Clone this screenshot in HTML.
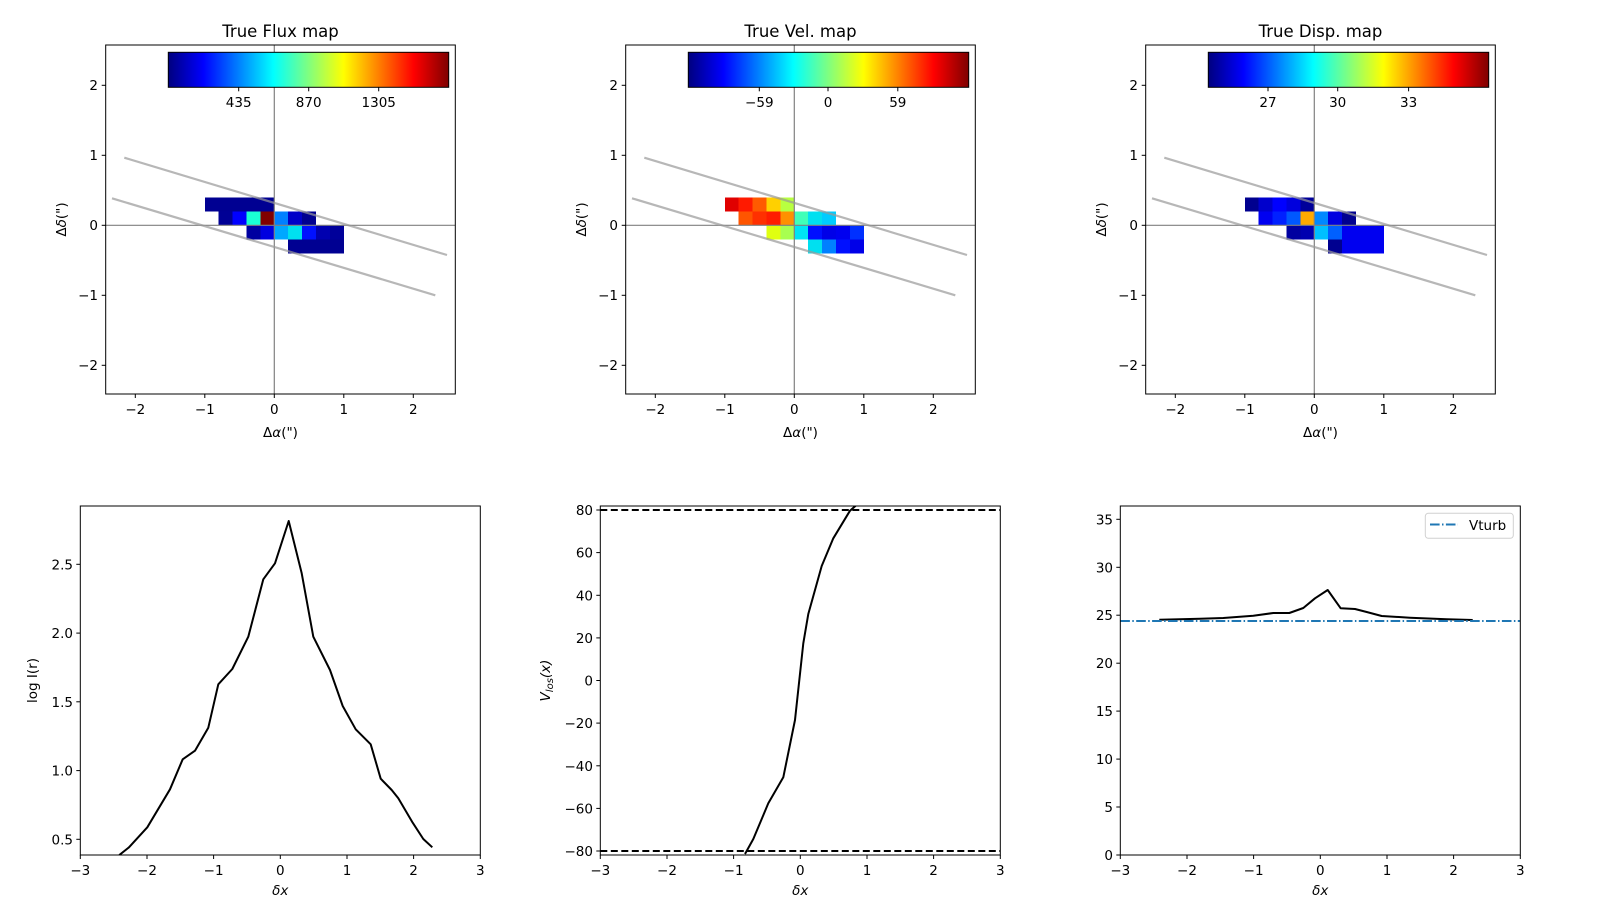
<!DOCTYPE html>
<html><head><meta charset="utf-8"><style>
html,body{margin:0;padding:0;background:#fff}
svg{display:block;font-family:"DejaVu Sans","Liberation Sans",sans-serif}
</style></head><body>
<svg width="1600" height="900" viewBox="0 0 1600 900" xmlns="http://www.w3.org/2000/svg">
<defs>
<linearGradient id="jet" x1="0" x2="1" y1="0" y2="0">
<stop offset="0" stop-color="#00007f"/><stop offset="0.125" stop-color="#0000ff"/>
<stop offset="0.375" stop-color="#00ffff"/><stop offset="0.625" stop-color="#ffff00"/>
<stop offset="0.875" stop-color="#ff0000"/><stop offset="1" stop-color="#7f0000"/>
</linearGradient>
<g id="topframe">
<line x1="274.3" y1="45" x2="274.3" y2="394" stroke="#808080" stroke-width="1.2"/>
<line x1="105.7" y1="225.3" x2="455.3" y2="225.3" stroke="#808080" stroke-width="1.2"/>
<line x1="124.3" y1="157.7" x2="447" y2="255" stroke="#999" stroke-opacity="0.7" stroke-width="2.2"/>
<line x1="112" y1="198.3" x2="435.3" y2="295.3" stroke="#999" stroke-opacity="0.7" stroke-width="2.2"/>
<rect x="168.3" y="52.3" width="280.4" height="35" fill="url(#jet)" stroke="#000" stroke-width="1"/>
<rect x="105.7" y="45" width="349.6" height="349" fill="none" stroke="#000" stroke-width="1"/>
<g stroke="#000" stroke-width="1">
<line x1="135.3" y1="394" x2="135.3" y2="398"/><line x1="204.8" y1="394" x2="204.8" y2="398"/><line x1="274.3" y1="394" x2="274.3" y2="398"/><line x1="343.8" y1="394" x2="343.8" y2="398"/><line x1="413.3" y1="394" x2="413.3" y2="398"/>
<line x1="101.7" y1="85.3" x2="105.7" y2="85.3"/><line x1="101.7" y1="155.3" x2="105.7" y2="155.3"/><line x1="101.7" y1="225.3" x2="105.7" y2="225.3"/><line x1="101.7" y1="295.3" x2="105.7" y2="295.3"/><line x1="101.7" y1="365.3" x2="105.7" y2="365.3"/>
</g>
<g font-size="13.5" fill="#000" text-anchor="middle">
<text x="135.3" y="414">−2</text><text x="204.8" y="414">−1</text><text x="274.3" y="414">0</text><text x="343.8" y="414">1</text><text x="413.3" y="414">2</text>
<text x="280.5" y="437">Δ<tspan font-style="italic">α</tspan>(")</text>
</g>
<g font-size="13.5" fill="#000" text-anchor="end">
<text x="98" y="90">2</text><text x="98" y="160">1</text><text x="98" y="230">0</text><text x="98" y="300">−1</text><text x="98" y="370">−2</text>
</g>
<text transform="translate(66,219.5) rotate(-90)" font-size="13.5" text-anchor="middle">Δ<tspan font-style="italic">δ</tspan>(")</text>
</g>
</defs>

<!-- Panel 1: Flux -->
<g>
<g shape-rendering="crispEdges">
<rect x="204.8" y="197.3" width="69.8" height="14.2" fill="#000092"/>
<rect x="218.7" y="211.3" width="14.1" height="14.2" fill="#000095"/>
<rect x="232.6" y="211.3" width="14.1" height="14.2" fill="#0000ff"/>
<rect x="246.5" y="211.3" width="14.1" height="14.2" fill="#1affd5"/>
<rect x="260.4" y="211.3" width="14.1" height="14.2" fill="#800000"/>
<rect x="274.3" y="211.3" width="14.1" height="14.2" fill="#0080ff"/>
<rect x="288.2" y="211.3" width="14.1" height="14.2" fill="#0000c8"/>
<rect x="302.1" y="211.3" width="14.1" height="14.2" fill="#000090"/>
<rect x="246.5" y="225.3" width="14.1" height="14.2" fill="#0000a0"/>
<rect x="260.4" y="225.3" width="14.1" height="14.2" fill="#0000e0"/>
<rect x="274.3" y="225.3" width="14.1" height="14.2" fill="#00a8ff"/>
<rect x="288.2" y="225.3" width="14.1" height="14.2" fill="#00e0f0"/>
<rect x="302.1" y="225.3" width="14.1" height="14.2" fill="#0010ff"/>
<rect x="316" y="225.3" width="14.1" height="14.2" fill="#0000b0"/>
<rect x="329.9" y="225.3" width="14" height="14.2" fill="#00009a"/>
<rect x="288.2" y="239.3" width="55.6" height="14" fill="#000092"/>
</g>
<use href="#topframe"/>
<text x="280.5" y="37" font-size="16.5" text-anchor="middle">True Flux map</text>
<g stroke="#000"><line x1="238.7" y1="87.3" x2="238.7" y2="91.3"/><line x1="308.7" y1="87.3" x2="308.7" y2="91.3"/><line x1="378.7" y1="87.3" x2="378.7" y2="91.3"/></g>
<g font-size="13.5" text-anchor="middle"><text x="238.7" y="107">435</text><text x="308.7" y="107">870</text><text x="378.7" y="107">1305</text></g>
</g>

<!-- Panel 2: Vel -->
<g transform="translate(520,0)">
<g shape-rendering="crispEdges">
<rect x="204.8" y="197.3" width="14.1" height="14.2" fill="#e00000"/>
<rect x="218.7" y="197.3" width="14.1" height="14.2" fill="#ff1a00"/>
<rect x="232.6" y="197.3" width="14.1" height="14.2" fill="#ff5a00"/>
<rect x="246.5" y="197.3" width="14.1" height="14.2" fill="#ffd000"/>
<rect x="260.4" y="197.3" width="14.1" height="14.2" fill="#b8ff40"/>
<rect x="218.7" y="211.3" width="14.1" height="14.2" fill="#ff5500"/>
<rect x="232.6" y="211.3" width="14.1" height="14.2" fill="#ff3000"/>
<rect x="246.5" y="211.3" width="14.1" height="14.2" fill="#ff1c00"/>
<rect x="260.4" y="211.3" width="14.1" height="14.2" fill="#ff9000"/>
<rect x="274.3" y="211.3" width="14.1" height="14.2" fill="#40ffb8"/>
<rect x="288.2" y="211.3" width="14.1" height="14.2" fill="#00e0f0"/>
<rect x="302.1" y="211.3" width="14.1" height="14.2" fill="#00ccff"/>
<rect x="246.5" y="225.3" width="14.1" height="14.2" fill="#e0ff10"/>
<rect x="260.4" y="225.3" width="14.1" height="14.2" fill="#a8ff50"/>
<rect x="274.3" y="225.3" width="14.1" height="14.2" fill="#00e4f4"/>
<rect x="288.2" y="225.3" width="14.1" height="14.2" fill="#0010ff"/>
<rect x="302.1" y="225.3" width="14.1" height="14.2" fill="#0000e8"/>
<rect x="316" y="225.3" width="14.1" height="14.2" fill="#0000f0"/>
<rect x="329.9" y="225.3" width="14" height="14.2" fill="#0030ff"/>
<rect x="288.2" y="239.3" width="14.1" height="14" fill="#00e0f0"/>
<rect x="302.1" y="239.3" width="14.1" height="14" fill="#0080ff"/>
<rect x="316" y="239.3" width="14.1" height="14" fill="#0010ff"/>
<rect x="329.9" y="239.3" width="14" height="14" fill="#0000e8"/>
</g>
<use href="#topframe"/>
<text x="280.5" y="37" font-size="16.5" text-anchor="middle">True Vel. map</text>
<g stroke="#000"><line x1="239.3" y1="87.3" x2="239.3" y2="91.3"/><line x1="308" y1="87.3" x2="308" y2="91.3"/><line x1="377.8" y1="87.3" x2="377.8" y2="91.3"/></g>
<g font-size="13.5" text-anchor="middle"><text x="239.3" y="107">−59</text><text x="308" y="107">0</text><text x="377.8" y="107">59</text></g>
</g>

<!-- Panel 3: Disp -->
<g transform="translate(1040,0)">
<g shape-rendering="crispEdges">
<rect x="204.8" y="197.3" width="14.1" height="14.2" fill="#00008f"/>
<rect x="218.7" y="197.3" width="14.1" height="14.2" fill="#0000cc"/>
<rect x="232.6" y="197.3" width="14.1" height="14.2" fill="#0000ff"/>
<rect x="246.5" y="197.3" width="14.1" height="14.2" fill="#0000dd"/>
<rect x="260.4" y="197.3" width="14.1" height="14.2" fill="#00009a"/>
<rect x="218.7" y="211.3" width="14.1" height="14.2" fill="#0000f0"/>
<rect x="232.6" y="211.3" width="14.1" height="14.2" fill="#0020ff"/>
<rect x="246.5" y="211.3" width="14.1" height="14.2" fill="#0058ff"/>
<rect x="260.4" y="211.3" width="14.1" height="14.2" fill="#ffaa00"/>
<rect x="274.3" y="211.3" width="14.1" height="14.2" fill="#0088ff"/>
<rect x="288.2" y="211.3" width="14.1" height="14.2" fill="#0000e0"/>
<rect x="302.1" y="211.3" width="14.1" height="14.2" fill="#000090"/>
<rect x="246.5" y="225.3" width="14.1" height="14.2" fill="#0000a0"/>
<rect x="260.4" y="225.3" width="14.1" height="14.2" fill="#0000b0"/>
<rect x="274.3" y="225.3" width="14.1" height="14.2" fill="#00c0ff"/>
<rect x="288.2" y="225.3" width="14.1" height="14.2" fill="#0060ff"/>
<rect x="302.1" y="225.3" width="41.7" height="14.2" fill="#0000f0"/>
<rect x="288.2" y="239.3" width="14.1" height="14" fill="#000090"/>
<rect x="302.1" y="239.3" width="41.7" height="14" fill="#0000f0"/>
</g>
<use href="#topframe"/>
<text x="280.5" y="37" font-size="16.5" text-anchor="middle">True Disp. map</text>
<g stroke="#000"><line x1="228" y1="87.3" x2="228" y2="91.3"/><line x1="297.7" y1="87.3" x2="297.7" y2="91.3"/><line x1="368.6" y1="87.3" x2="368.6" y2="91.3"/></g>
<g font-size="13.5" text-anchor="middle"><text x="228" y="107">27</text><text x="297.7" y="107">30</text><text x="368.6" y="107">33</text></g>
</g>

<!-- Bottom 1 -->
<g>
<clipPath id="c1"><rect x="80.3" y="506" width="400" height="349"/></clipPath>
<polyline clip-path="url(#c1)" fill="none" stroke="#000" stroke-width="2" stroke-linejoin="round" points="119.3,855 129,847.3 147.3,827.3 170,789.3 182.7,759.3 195,750.7 208.3,727.7 218.3,684.3 232.3,669 248.3,636.7 263.3,579.3 275,563.3 288.7,521 301.7,573.3 313.3,636.7 330,670 342.7,706 355.7,729.3 370.7,744.3 380.7,778.7 391.7,790 398.3,798.3 412.7,822.7 423.3,839 432.3,847.3"/>
<rect x="80.3" y="506" width="400" height="349" fill="none" stroke="#000"/>
<g stroke="#000">
<line x1="80.3" y1="855" x2="80.3" y2="859"/><line x1="147" y1="855" x2="147" y2="859"/><line x1="213.6" y1="855" x2="213.6" y2="859"/><line x1="280.3" y1="855" x2="280.3" y2="859"/><line x1="347" y1="855" x2="347" y2="859"/><line x1="413.6" y1="855" x2="413.6" y2="859"/><line x1="480.3" y1="855" x2="480.3" y2="859"/>
<line x1="76.3" y1="564.3" x2="80.3" y2="564.3"/><line x1="76.3" y1="633.1" x2="80.3" y2="633.1"/><line x1="76.3" y1="701.8" x2="80.3" y2="701.8"/><line x1="76.3" y1="770.6" x2="80.3" y2="770.6"/><line x1="76.3" y1="839.3" x2="80.3" y2="839.3"/>
</g>
<g font-size="13.5" text-anchor="middle">
<text x="80.3" y="875">−3</text><text x="147" y="875">−2</text><text x="213.6" y="875">−1</text><text x="280.3" y="875">0</text><text x="347" y="875">1</text><text x="413.6" y="875">2</text><text x="480.3" y="875">3</text>
<text x="280.3" y="895" font-style="italic">δx</text>
</g>
<g font-size="13.5" text-anchor="end">
<text x="73" y="569.3">2.5</text><text x="73" y="638.1">2.0</text><text x="73" y="706.8">1.5</text><text x="73" y="775.6">1.0</text><text x="73" y="844.3">0.5</text>
</g>
<text transform="translate(37,680.5) rotate(-90)" font-size="13.5" text-anchor="middle">log I(r)</text>
</g>

<!-- Bottom 2 -->
<g>
<clipPath id="c2"><rect x="600.3" y="506" width="400" height="349"/></clipPath>
<g clip-path="url(#c2)">
<polyline fill="none" stroke="#000" stroke-width="2" stroke-linejoin="round" points="745,854 753.3,839 768.3,803.3 783.3,777.3 795,720 803.3,643.3 808.3,614 821.7,566 833.3,538.3 850,510.7 860,502"/>
<line x1="600.3" y1="510" x2="1000.3" y2="510" stroke="#000" stroke-width="2" stroke-dasharray="7,3.5"/>
<line x1="600.3" y1="851" x2="1000.3" y2="851" stroke="#000" stroke-width="2" stroke-dasharray="7,3.5"/>
</g>
<rect x="600.3" y="506" width="400" height="349" fill="none" stroke="#000"/>
<g stroke="#000">
<line x1="600.3" y1="855" x2="600.3" y2="859"/><line x1="667" y1="855" x2="667" y2="859"/><line x1="733.6" y1="855" x2="733.6" y2="859"/><line x1="800.3" y1="855" x2="800.3" y2="859"/><line x1="867" y1="855" x2="867" y2="859"/><line x1="933.6" y1="855" x2="933.6" y2="859"/><line x1="1000.3" y1="855" x2="1000.3" y2="859"/>
<line x1="596.3" y1="510" x2="600.3" y2="510"/><line x1="596.3" y1="552.6" x2="600.3" y2="552.6"/><line x1="596.3" y1="595.3" x2="600.3" y2="595.3"/><line x1="596.3" y1="637.9" x2="600.3" y2="637.9"/><line x1="596.3" y1="680.5" x2="600.3" y2="680.5"/><line x1="596.3" y1="723.1" x2="600.3" y2="723.1"/><line x1="596.3" y1="765.8" x2="600.3" y2="765.8"/><line x1="596.3" y1="808.4" x2="600.3" y2="808.4"/><line x1="596.3" y1="851" x2="600.3" y2="851"/>
</g>
<g font-size="13.5" text-anchor="middle">
<text x="600.3" y="875">−3</text><text x="667" y="875">−2</text><text x="733.6" y="875">−1</text><text x="800.3" y="875">0</text><text x="867" y="875">1</text><text x="933.6" y="875">2</text><text x="1000.3" y="875">3</text>
<text x="800.3" y="895" font-style="italic">δx</text>
</g>
<g font-size="13.5" text-anchor="end">
<text x="593" y="515">80</text><text x="593" y="557.6">60</text><text x="593" y="600.3">40</text><text x="593" y="642.9">20</text><text x="593" y="685.5">0</text><text x="593" y="728.1">−20</text><text x="593" y="770.8">−40</text><text x="593" y="813.4">−60</text><text x="593" y="856">−80</text>
</g>
<text transform="translate(550,680.5) rotate(-90)" font-size="13.5" text-anchor="middle" font-style="italic">V<tspan font-size="10" dy="3">los</tspan><tspan dy="-3">(x)</tspan></text>
</g>

<!-- Bottom 3 -->
<g>
<polyline fill="none" stroke="#000" stroke-width="2" stroke-linejoin="round" points="1159.3,619.7 1200,618.7 1223.3,618 1253.3,615.7 1273.3,613 1289.3,613 1303.3,608 1315,598.3 1327.7,590 1340.7,608.3 1355,609 1366.7,612 1381.7,616 1410,617.7 1446.7,619.3 1472.7,620"/>
<line x1="1120.3" y1="621" x2="1520.3" y2="621" stroke="#1f77b4" stroke-width="2" stroke-dasharray="9.6,2.4,1.5,2.4"/>
<rect x="1120.3" y="506" width="400" height="349" fill="none" stroke="#000"/>
<rect x="1425.3" y="513.3" width="88" height="25" rx="3" fill="#fff" fill-opacity="0.8" stroke="#d0d0d0"/>
<line x1="1430" y1="524.5" x2="1458" y2="524.5" stroke="#1f77b4" stroke-width="2" stroke-dasharray="9.6,2.4,1.5,2.4"/>
<text x="1469" y="530" font-size="13.5">Vturb</text>
<g stroke="#000">
<line x1="1120.3" y1="855" x2="1120.3" y2="859"/><line x1="1187" y1="855" x2="1187" y2="859"/><line x1="1253.6" y1="855" x2="1253.6" y2="859"/><line x1="1320.3" y1="855" x2="1320.3" y2="859"/><line x1="1387" y1="855" x2="1387" y2="859"/><line x1="1453.6" y1="855" x2="1453.6" y2="859"/><line x1="1520.3" y1="855" x2="1520.3" y2="859"/>
<line x1="1116.3" y1="855" x2="1120.3" y2="855"/><line x1="1116.3" y1="807" x2="1120.3" y2="807"/><line x1="1116.3" y1="759.1" x2="1120.3" y2="759.1"/><line x1="1116.3" y1="711.1" x2="1120.3" y2="711.1"/><line x1="1116.3" y1="663.2" x2="1120.3" y2="663.2"/><line x1="1116.3" y1="615.2" x2="1120.3" y2="615.2"/><line x1="1116.3" y1="567.3" x2="1120.3" y2="567.3"/><line x1="1116.3" y1="519.3" x2="1120.3" y2="519.3"/>
</g>
<g font-size="13.5" text-anchor="middle">
<text x="1120.3" y="875">−3</text><text x="1187" y="875">−2</text><text x="1253.6" y="875">−1</text><text x="1320.3" y="875">0</text><text x="1387" y="875">1</text><text x="1453.6" y="875">2</text><text x="1520.3" y="875">3</text>
<text x="1320.3" y="895" font-style="italic">δx</text>
</g>
<g font-size="13.5" text-anchor="end">
<text x="1113" y="860">0</text><text x="1113" y="812">5</text><text x="1113" y="764.1">10</text><text x="1113" y="716.1">15</text><text x="1113" y="668.2">20</text><text x="1113" y="620.2">25</text><text x="1113" y="572.3">30</text><text x="1113" y="524.3">35</text>
</g>
</g>
</svg>
</body></html>
